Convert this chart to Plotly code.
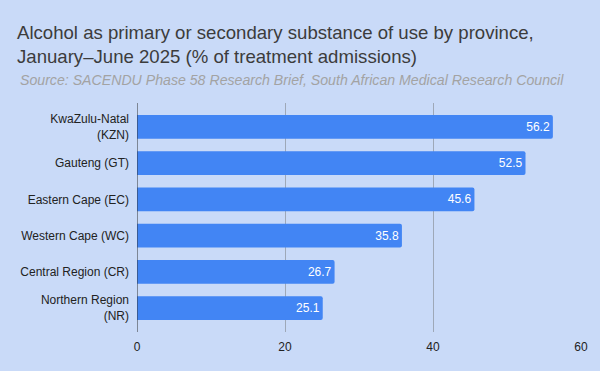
import plotly.graph_objects as go

categories = ["KwaZulu-Natal<br>(KZN)", "Gauteng (GT)", "Eastern Cape (EC)",
              "Western Cape (WC)", "Central Region (CR)", "Northern Region<br>(NR)"]
values = [56.2, 52.5, 45.6, 35.8, 26.7, 25.1]
x_ticks = [0, 20, 40, 60]

W, H = 600, 371
L, R, T, B = 137, 19, 103, 39

fig = go.Figure(go.Bar(
    x=values, y=categories, orientation="h",
    marker=dict(color="#4285f4", line=dict(width=0), cornerradius=2),
    text=[f"{v:.1f}" for v in values],
    textposition="inside", insidetextanchor="end",
    textfont=dict(color="white", size=12, family="Liberation Sans, Arial"),
    constraintext="none",
    hoverinfo="skip",
))

fig.update_layout(
    width=W, height=H,
    margin=dict(l=L, r=R, t=T, b=B),
    paper_bgcolor="#c9daf8", plot_bgcolor="#c9daf8",
    font=dict(family="Liberation Sans, Arial", color="#222222", size=12),
    bargap=0.34,
    showlegend=False,
    title=dict(
        text="Alcohol as primary or secondary substance of use by province,<br>January–June 2025 (% of treatment admissions)",
        font=dict(size=18.6, color="#3c3c3c", family="Liberation Sans, Arial"),
        xref="container", x=17 / W, xanchor="left",
        yref="container", y=1 - 39 / H, yanchor="top",
    ),
    annotations=[dict(
        text="<i>Source: SACENDU Phase 58 Research Brief, South African Medical Research Council</i>",
        xref="paper", yref="paper",
        x=(18 - L) / (W - L - R), y=(H - B - 80) / (H - T - B),
        xanchor="left", yanchor="middle", showarrow=False,
        font=dict(size=14.15, color="#a3a3a3", family="Liberation Sans, Arial"),
    )],
)

fig.update_xaxes(
    range=[0, 60], tickvals=x_ticks, ticktext=[str(t) for t in x_ticks],
    showgrid=True, gridcolor="#9ea8b8", gridwidth=1,
    zeroline=False, showline=False,
    ticks="", ticklabelstandoff=6, tickfont=dict(size=12, color="#222222"),
    fixedrange=True,
)
fig.update_yaxes(
    type="category", categoryorder="array", categoryarray=categories,
    range=[5.66, -0.66],
    showgrid=False, zeroline=False,
    showline=False, ticks="", ticklabelstandoff=7,
    tickfont=dict(size=12, color="#222222"),
    fixedrange=True,
)

# Zero baseline drawn as a shape at x=0
fig.add_shape(type="line", xref="x", yref="paper", x0=0, x1=0, y0=0, y1=1,
              line=dict(color="#333333", width=1), layer="above")

fig.write_html("out.html")
